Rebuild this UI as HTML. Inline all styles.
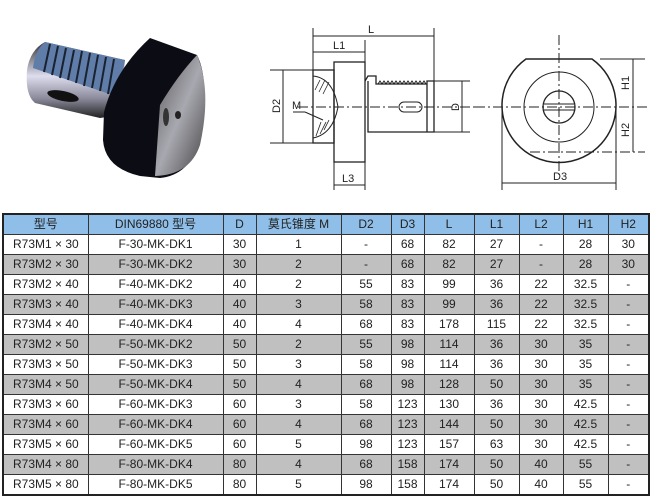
<!DOCTYPE html>
<html><head><meta charset="utf-8"><style>
body{margin:0;width:650px;height:494px;background:#fff;overflow:hidden;position:relative;font-family:"Liberation Sans","Noto Sans CJK SC",sans-serif}
table{position:absolute;left:2px;top:213px;border-collapse:collapse;font-size:12px;color:#222;table-layout:fixed}
td{border:1px solid #333;height:19px;padding:0;text-align:center;line-height:19px}
tr.h td{background:#8fbfe8;height:18px}
tr.g td{background:#c0c0c0}
td.f{text-align:left;padding-left:9px}
table{border:2px solid #222}
</style></head><body>
<svg width="650" height="210" style="position:absolute;left:0;top:0" font-family="Liberation Sans, sans-serif">
<defs>
<linearGradient id="sh" x1="0" y1="0" x2="0" y2="1"><stop offset="0" stop-color="#333"/><stop offset=".45" stop-color="#dde"/><stop offset=".75" stop-color="#889"/><stop offset="1" stop-color="#222"/></linearGradient>
<linearGradient id="fc" x1="0" y1="0" x2="1" y2="1"><stop offset="0" stop-color="#555"/><stop offset=".5" stop-color="#a8a8b0"/><stop offset="1" stop-color="#444"/></linearGradient>
</defs>
<!-- photo -->
<path d="M45 42 L125 60 L120 115 L100 118 L35 103 Q25 95 27 70 Q30 50 45 42 Z" fill="url(#sh)"/>
<path d="M45 42 L125 60 L118 97 L33 68 Q35 50 45 42 Z" fill="#5f7da8"/>
<g stroke="#1a2230" stroke-width="2">
<line x1="50" y1="44" x2="44" y2="72"/><line x1="58" y1="46" x2="52" y2="75"/><line x1="66" y1="48" x2="60" y2="78"/><line x1="74" y1="50" x2="68" y2="80"/><line x1="82" y1="51" x2="76" y2="83"/><line x1="90" y1="53" x2="84" y2="86"/><line x1="98" y1="55" x2="92" y2="88"/><line x1="106" y1="57" x2="100" y2="91"/><line x1="114" y1="59" x2="108" y2="94"/></g>
<ellipse cx="63" cy="96" rx="16" ry="5" transform="rotate(12 63 96)" fill="#111"/>
<path d="M150 38 L197 55 Q210 80 200 140 Q190 175 160 178 L140 176 Q105 168 103 140 L104 112 Q115 70 150 38 Z" fill="#0b0c14"/>
<path d="M160 105 Q178 75 197 55 Q212 90 200 145 Q190 175 155 176 Z" fill="url(#fc)"/>
<ellipse cx="178" cy="115" rx="3" ry="4" fill="#222"/>
<ellipse cx="166" cy="117" rx="3" ry="9" fill="#333"/>
<!-- drawing -->
<g stroke="#222" fill="none" stroke-width="1">
<line x1="313" y1="28" x2="313" y2="70"/><line x1="434" y1="28" x2="434" y2="81"/>
<line x1="313" y1="36" x2="434" y2="36"/><line x1="313" y1="52" x2="365" y2="52"/>
<line x1="365" y1="40" x2="365" y2="62"/>
<rect x="313" y="70" width="21" height="73" stroke-width="1.3"/>
<rect x="334" y="62" width="31" height="100" stroke-width="1.3"/>
<path d="M365 81 L368 76 L376 76 L376 84 L427 84 L427 81 M368 81 L368 132 L434 132 L434 81 L427 81 L427 132" stroke-width="1.3"/>
<path d="M378 84 l2 -3 l2 3 l2 -3 l2 3 l2 -3 l2 3 l2 -3 l2 3 l2 -3 l2 3 l2 -3 l2 3 l2 -3 l2 3 l2 -3 l2 3 l2 -3 l2 3 l2 -3 l2 3 l2 -3 l2 3 l2 -3 l2 3"/>
<rect x="399" y="102" width="23" height="10" rx="5"/>
<path d="M313 76 Q333 78 338 107 Q333 134 313 138"/>
<g stroke-width=".8"><line x1="315" y1="90" x2="320" y2="80"/><line x1="319" y1="92" x2="325" y2="80"/><line x1="323" y1="94" x2="329" y2="82"/><line x1="316" y1="136" x2="321" y2="122"/><line x1="320" y1="134" x2="326" y2="122"/><line x1="324" y1="130" x2="329" y2="120"/></g>
<line x1="270" y1="70" x2="313" y2="70"/><line x1="270" y1="143" x2="313" y2="143"/><line x1="283" y1="70" x2="283" y2="143"/>
<line x1="293" y1="112" x2="305" y2="112"/><line x1="305" y1="112" x2="323" y2="120"/>
<line x1="434" y1="81" x2="470" y2="81"/><line x1="434" y1="132" x2="470" y2="132"/><line x1="462" y1="81" x2="462" y2="132"/>
<line x1="334" y1="162" x2="334" y2="190"/><line x1="365" y1="162" x2="365" y2="190"/><line x1="334" y1="185" x2="365" y2="185"/>
<line x1="298" y1="107" x2="475" y2="107" stroke-dasharray="10 3 2 3"/>
<path d="M526 59 L592 59 A57 57 0 1 1 526 59Z" stroke-width="1.5"/>
<circle cx="559" cy="107" r="35"/>
<circle cx="559" cy="107" r="16" stroke-width="1.3"/>
<line x1="544" y1="104" x2="574" y2="104"/><line x1="544" y1="110" x2="574" y2="110"/>
<line x1="475" y1="107" x2="650" y2="107" stroke-dasharray="10 3 2 3"/>
<line x1="559" y1="35" x2="559" y2="175" stroke-dasharray="10 3 2 3"/>
<line x1="600" y1="59" x2="645" y2="59"/><line x1="633" y1="59" x2="633" y2="152"/>
<line x1="530" y1="152" x2="645" y2="152" stroke-dasharray="10 3 2 3"/>
<line x1="502" y1="110" x2="502" y2="190"/><line x1="616" y1="110" x2="616" y2="190"/><line x1="502" y1="183" x2="616" y2="183"/>
</g>
<g font-size="11" fill="#222">
<text x="368" y="33">L</text><text x="333" y="49">L1</text><text x="292" y="109">M</text>
<text x="342" y="182">L3</text><text x="553" y="180">D3</text>
<text transform="translate(280 113) rotate(-90)">D2</text>
<text transform="translate(459 111) rotate(-90)">D</text>
<text transform="translate(629 90) rotate(-90)">H1</text>
<text transform="translate(629 137) rotate(-90)">H2</text>
</g>
</svg>
<table>
<colgroup><col style="width:85px"><col style="width:135px"><col style="width:33px"><col style="width:85px"><col style="width:50px"><col style="width:33px"><col style="width:50px"><col style="width:45px"><col style="width:44px"><col style="width:45px"><col style="width:41px"></colgroup>
<tr class="h"><td>型号</td><td>DIN69880 型号</td><td>D</td><td>莫氏锥度 M</td><td>D2</td><td>D3</td><td>L</td><td>L1</td><td>L2</td><td>H1</td><td>H2</td></tr>
<tr><td class="f">R73M1 × 30</td><td>F-30-MK-DK1</td><td>30</td><td>1</td><td>-</td><td>68</td><td>82</td><td>27</td><td>-</td><td>28</td><td>30</td></tr>
<tr class="g"><td class="f">R73M2 × 30</td><td>F-30-MK-DK2</td><td>30</td><td>2</td><td>-</td><td>68</td><td>82</td><td>27</td><td>-</td><td>28</td><td>30</td></tr>
<tr><td class="f">R73M2 × 40</td><td>F-40-MK-DK2</td><td>40</td><td>2</td><td>55</td><td>83</td><td>99</td><td>36</td><td>22</td><td>32.5</td><td>-</td></tr>
<tr class="g"><td class="f">R73M3 × 40</td><td>F-40-MK-DK3</td><td>40</td><td>3</td><td>58</td><td>83</td><td>99</td><td>36</td><td>22</td><td>32.5</td><td>-</td></tr>
<tr><td class="f">R73M4 × 40</td><td>F-40-MK-DK4</td><td>40</td><td>4</td><td>68</td><td>83</td><td>178</td><td>115</td><td>22</td><td>32.5</td><td>-</td></tr>
<tr class="g"><td class="f">R73M2 × 50</td><td>F-50-MK-DK2</td><td>50</td><td>2</td><td>55</td><td>98</td><td>114</td><td>36</td><td>30</td><td>35</td><td>-</td></tr>
<tr><td class="f">R73M3 × 50</td><td>F-50-MK-DK3</td><td>50</td><td>3</td><td>58</td><td>98</td><td>114</td><td>36</td><td>30</td><td>35</td><td>-</td></tr>
<tr class="g"><td class="f">R73M4 × 50</td><td>F-50-MK-DK4</td><td>50</td><td>4</td><td>68</td><td>98</td><td>128</td><td>50</td><td>30</td><td>35</td><td>-</td></tr>
<tr><td class="f">R73M3 × 60</td><td>F-60-MK-DK3</td><td>60</td><td>3</td><td>58</td><td>123</td><td>130</td><td>36</td><td>30</td><td>42.5</td><td>-</td></tr>
<tr class="g"><td class="f">R73M4 × 60</td><td>F-60-MK-DK4</td><td>60</td><td>4</td><td>68</td><td>123</td><td>144</td><td>50</td><td>30</td><td>42.5</td><td>-</td></tr>
<tr><td class="f">R73M5 × 60</td><td>F-60-MK-DK5</td><td>60</td><td>5</td><td>98</td><td>123</td><td>157</td><td>63</td><td>30</td><td>42.5</td><td>-</td></tr>
<tr class="g"><td class="f">R73M4 × 80</td><td>F-80-MK-DK4</td><td>80</td><td>4</td><td>68</td><td>158</td><td>174</td><td>50</td><td>40</td><td>55</td><td>-</td></tr>
<tr><td class="f">R73M5 × 80</td><td>F-80-MK-DK5</td><td>80</td><td>5</td><td>98</td><td>158</td><td>174</td><td>50</td><td>40</td><td>55</td><td>-</td></tr>
</table>
</body></html>
